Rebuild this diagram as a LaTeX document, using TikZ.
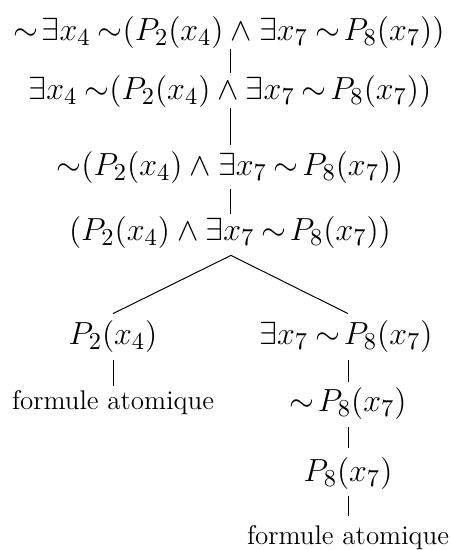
\documentclass[tikz,border=0pt]{standalone}
\usepackage{graphicx}
\newcommand{\tneg}{\mathord{\sim}}
\newcommand{\tsp}{\mskip2mu}
\newcommand{\fm}[1]{\scalebox{1.11}{$#1$}}
\begin{document}
\begin{tikzpicture}[x=0.5pt,y=-0.5pt,
  every node/.style={inner sep=0pt},
  fml/.style={font=\fontsize{15}{18}\selectfont},
  txt/.style={font=\fontsize{13.5}{16}\selectfont},
  edge/.style={line width=0.5pt}]
\useasboundingbox (0,0) rectangle (450,550);
\node[fml] (f1) at (229,33) {\fm{\tneg\tsp\exists x_4\:\tneg(P_2(x_4)\wedge\exists x_7\:\tneg\tsp P_8(x_7))}};
\node[fml] (f2) at (230,92) {\fm{\exists x_4\:\tneg(P_2(x_4)\wedge\exists x_7\:\tneg\tsp P_8(x_7))}};
\node[fml] (f3) at (230,168) {\fm{\tneg(P_2(x_4)\wedge\exists x_7\:\tneg\tsp P_8(x_7))}};
\node[fml] (f4) at (230,233) {\fm{(P_2(x_4)\wedge\exists x_7\:\tneg\tsp P_8(x_7))}};
\node[fml] (l1) at (113,337) {\fm{P_2(x_4)}};
\node[txt,anchor=base] (l2) at (113,409) {formule atomique};
\node[fml] (r1) at (346,337) {\fm{\exists x_7\:\tneg\tsp P_8(x_7)}};
\node[fml] (r2) at (348,404) {\fm{\tneg\tsp P_8(x_7)}};
\node[fml] (r3) at (348,474) {\fm{P_8(x_7)}};
\node[txt,anchor=base] (r4) at (348,544) {formule atomique};
\draw[edge] ([xshift=0.5pt]f1.south) -- ([yshift=1.5pt]f2.north);
\draw[edge] (f2.south) -- ([yshift=3.5pt]f3.north);
\draw[edge] ([yshift=-2.5pt]f3.south) -- ([yshift=1.5pt]f4.north);
\draw[edge] ([yshift=-3pt,xshift=0.5pt]f4.south) -- ([yshift=3.5pt]l1.north);
\draw[edge] ([yshift=-3pt,xshift=0.5pt]f4.south) -- ([yshift=3.5pt,xshift=1pt]r1.north);
\draw[edge] ([yshift=-3.5pt]l1.south) -- ([yshift=2pt]l2.north);
\draw[edge] ([yshift=-3.5pt,xshift=1pt]r1.south) -- ([yshift=3pt]r2.north);
\draw[edge] ([yshift=-3.5pt]r2.south) -- ([yshift=5pt]r3.north);
\draw[edge] ([yshift=-3pt]r3.south) -- ([yshift=4.5pt]r4.north);
\end{tikzpicture}
\end{document}
